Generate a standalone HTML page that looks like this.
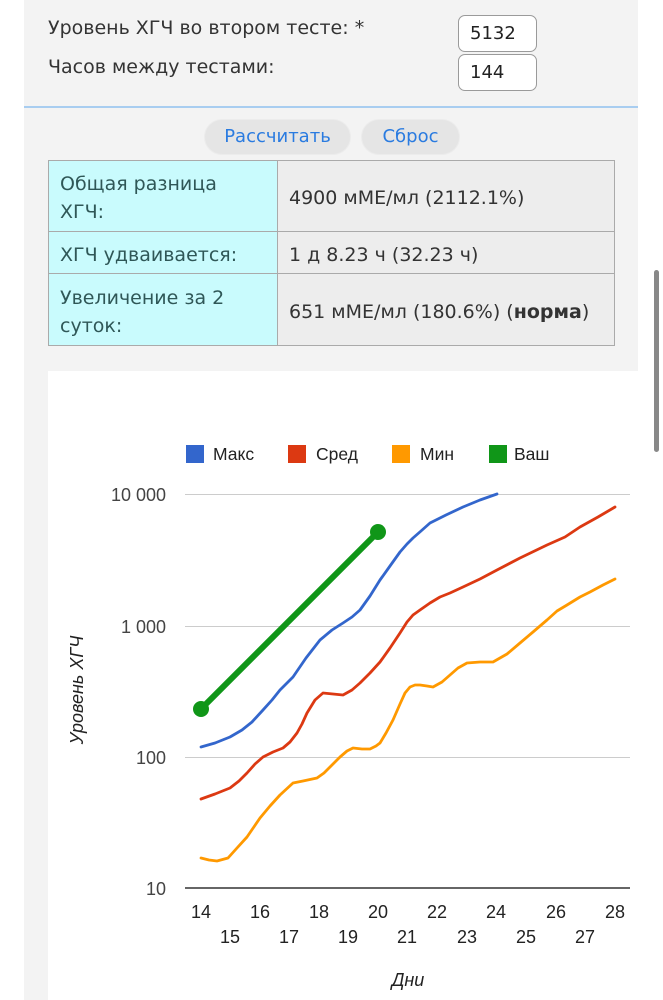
<!DOCTYPE html>
<html><head><meta charset="utf-8">
<style>
html,body{margin:0;padding:0;}
body{width:663px;height:1000px;position:relative;overflow:hidden;background:#fff;font-family:"DejaVu Sans","Liberation Sans",sans-serif;}
.panel{position:absolute;left:24px;top:0;width:614px;height:1000px;background:#f3f3f3;}
.lbl{position:absolute;left:48px;font-size:19px;color:#333;white-space:nowrap;letter-spacing:0px;}
.inp{position:absolute;left:458px;width:79px;height:37px;border:1.5px solid #9a9a9a;border-radius:7px;background:#fff;font-size:18px;color:#222;box-sizing:border-box;padding-left:11px;line-height:35px;}
.sep{position:absolute;left:24px;top:106px;width:614px;height:2px;background:#a8cdf0;}
.btn{position:absolute;top:119px;height:36px;border-radius:18px;background:#e5e5e5;color:#2a7be0;font-size:18px;line-height:34px;text-align:center;border:1px solid #ececec;box-sizing:border-box;}
table{position:absolute;left:48px;top:160px;width:567px;border-collapse:collapse;font-size:19px;}
td{border:1.5px solid #aaa;padding:4px 11px 0 11px;line-height:28px;white-space:nowrap;box-sizing:border-box;}
td.l{background:#c9fbfd;color:#2f5757;width:229px;}
td.r{background:#ededed;color:#333;}
.chart{position:absolute;left:48px;top:371px;width:590px;height:629px;background:#fff;}
.sb{position:absolute;left:654px;top:270px;width:5px;height:182px;background:#888;border-radius:3px;}
</style></head><body>
<div class="panel"></div>
<div class="lbl" style="top:17px;">Уровень ХГЧ во втором тесте: *</div>
<div class="lbl" style="top:56px;">Часов между тестами:</div>
<div class="inp" style="top:15px;">5132</div>
<div class="inp" style="top:54px;">144</div>
<div class="sep"></div>
<div class="btn" style="left:204px;width:147px;">Рассчитать</div>
<div class="btn" style="left:361px;width:99px;">Сброс</div>
<table>
<tr style="height:71px;"><td class="l">Общая разница<br>ХГЧ:</td><td class="r">4900 мМЕ/мл (2112.1%)</td></tr>
<tr style="height:42px;"><td class="l">ХГЧ удваивается:</td><td class="r">1 д 8.23 ч (32.23 ч)</td></tr>
<tr style="height:72px;"><td class="l">Увеличение за 2<br>суток:</td><td class="r">651 мМЕ/мл (180.6%) (<b>норма</b>)</td></tr>
</table>
<div class="chart"></div>
<div class="sb"></div>
<svg style="position:absolute;left:0;top:0" width="663" height="1000" xmlns="http://www.w3.org/2000/svg" font-family="Liberation Sans, Arial, sans-serif">
<g font-size="17.5" fill="#222">
<rect x="186" y="445" width="18" height="18" fill="#3366cc"/><text x="213" y="460">Макс</text>
<rect x="288" y="445" width="18" height="18" fill="#dc3912"/><text x="316" y="460">Сред</text>
<rect x="392" y="445" width="18" height="18" fill="#ff9900"/><text x="420" y="460">Мин</text>
<rect x="489" y="445" width="18" height="18" fill="#109618"/><text x="514" y="460">Ваш</text>
</g>
<g stroke="#cccccc" stroke-width="1">
<line x1="185" y1="494.5" x2="630" y2="494.5"/>
<line x1="185" y1="626.5" x2="630" y2="626.5"/>
<line x1="185" y1="757.5" x2="630" y2="757.5"/>
</g>
<line x1="185" y1="888" x2="630" y2="888" stroke="#333" stroke-width="1.5"/>
<g font-size="18" fill="#444" text-anchor="end">
<text x="166" y="501">10 000</text>
<text x="166" y="633">1 000</text>
<text x="166" y="764">100</text>
<text x="166" y="895">10</text>
</g>
<g font-size="18" fill="#222" text-anchor="middle">
<text x="201" y="918">14</text><text x="260" y="918">16</text><text x="319" y="918">18</text><text x="378" y="918">20</text>
<text x="437" y="918">22</text><text x="496" y="918">24</text><text x="556" y="918">26</text><text x="615" y="918">28</text>
<text x="230" y="943">15</text><text x="289" y="943">17</text><text x="348" y="943">19</text><text x="407" y="943">21</text>
<text x="467" y="943">23</text><text x="526" y="943">25</text><text x="585" y="943">27</text>
<text x="408" y="986" font-style="italic">Дни</text>
<text transform="translate(83,690) rotate(-90)" font-style="italic">Уровень ХГЧ</text>
</g>
<g fill="none" stroke-width="2.8" stroke-linejoin="round" stroke-linecap="round">
<polyline stroke="#ff9900" points="201,858 209,860 217,861 228,858 237,848 247,837 260,818 270,806 280,795 293,783 303,781 317,778 324,773 330,767 340,757 347,751 353,748 362,749 370,749 376,746 380,743 386,733 393,720 400,704 405,693 410,687 415,685 420,685 427,686 433,687 442,682 450,675 458,668 467,663 480,662 493,662 507,654 520,643 533,632 547,620 557,611 567,605 580,597 590,592 603,585 615,579"/>
<polyline stroke="#dc3912" points="201,799 215,794 230,788 239,781 247,773 255,764 263,757 273,752 283,748 290,742 297,733 302,724 307,713 315,700 323,693 333,694 343,695 352,690 360,683 370,673 380,662 390,648 400,633 407,622 413,615 420,610 430,603 440,597 450,593 463,587 480,579 497,570 520,558 547,545 565,537 580,527 598,517 615,507"/>
<polyline stroke="#3366cc" points="201,747 215,743 230,737 242,730 252,722 263,710 272,700 280,690 293,677 306,658 320,640 332,630 343,623 352,617 360,610 370,596 380,580 390,566 400,552 407,544 413,538 421,531 430,523 446,515 463,507 480,500 497,494"/>
</g>
<line x1="201" y1="709" x2="378" y2="532" stroke="#109618" stroke-width="6" stroke-linecap="round"/>
<circle cx="201" cy="709" r="8" fill="#109618"/>
<circle cx="378" cy="532" r="8" fill="#109618"/>
</svg>
</body></html>
